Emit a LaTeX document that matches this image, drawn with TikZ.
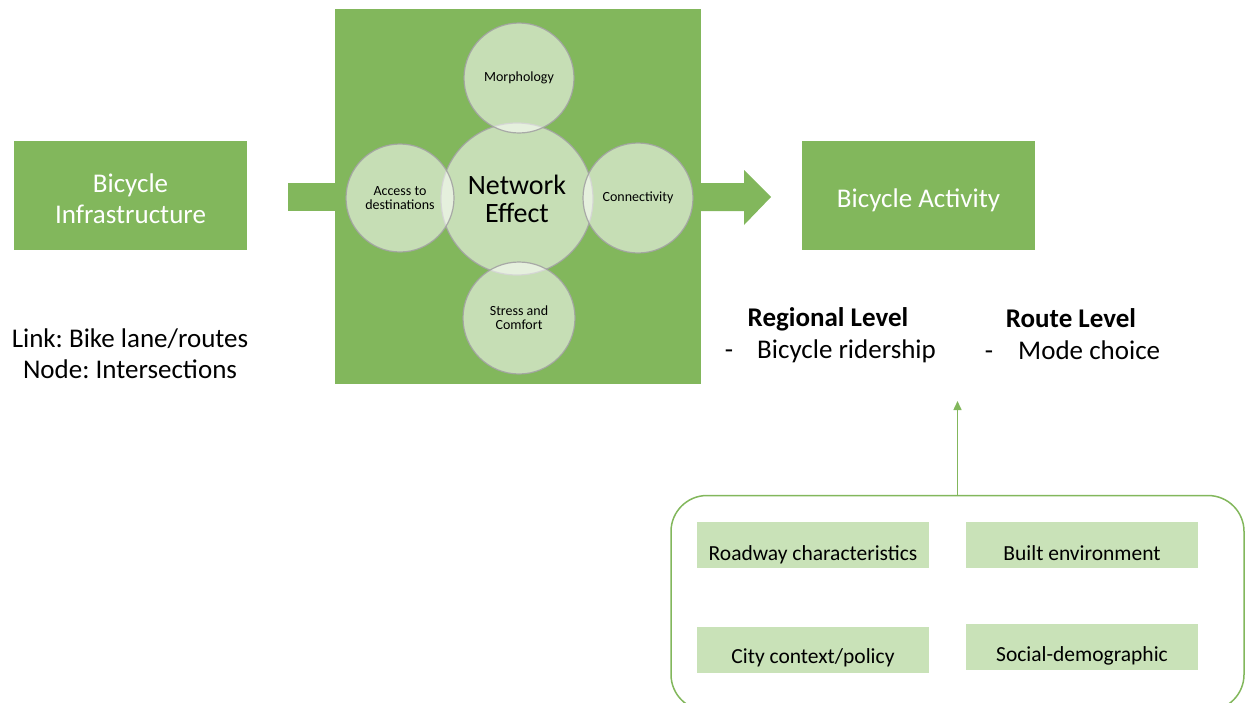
\documentclass[tikz,border=0pt]{standalone}
\usepackage{fontspec}
\setmainfont{Carlito}
\usetikzlibrary{arrows.meta}
\frenchspacing
\definecolor{leaf}{HTML}{82B75C}
\definecolor{paleleaf}{HTML}{C9E2B8}
\definecolor{rim}{HTML}{A3A3A3}
\tikzset{
  greenbox/.style={fill=leaf, text=white, minimum width=233pt, minimum height=109pt,
    align=center, font=\fontsize{27}{31}\selectfont, inner sep=0pt},
  bubble/.style={circle, fill=white, fill opacity=0.55, text opacity=1, draw=rim,
    draw opacity=0.9, line width=1.2pt, align=center, inner sep=0pt},
  small/.style={font=\fontsize{14}{14}\selectfont},
  factor/.style={fill=paleleaf, minimum width=232pt, minimum height=46pt, inner sep=0pt},
  factortext/.style={font=\fontsize{21.5}{24}\selectfont, inner sep=0pt,
    text height=15pt, text depth=5pt},
  plain/.style={font=\fontsize{27}{31}\selectfont, inner sep=0pt},
  heading/.style={font=\fontsize{27}{31}\selectfont\bfseries, inner sep=0pt},
}
\newcommand{\lowerby}[2]{\raisebox{-#1}[\height][\depth]{#2}}
\begin{document}
\begin{tikzpicture}[x=1pt, y=-1pt]
\useasboundingbox (0,0) rectangle (1247,702);
\clip (0,0) rectangle (1247,702);

% left block and its notes
\node[greenbox] (infra) at (130.5,195.5)
  {\lowerby{6pt}{\begin{tabular}{@{}c@{}}Bicycle\\Infrastructure\end{tabular}}};
\node[plain, align=center] (notes) at (130,354) {Link: Bike lane/routes\\Node: Intersections};

% arrow stub into the network panel
\fill[leaf] (288,183) rectangle (336,211);

% network panel
\node[fill=leaf, minimum width=366pt, minimum height=375pt, inner sep=0pt] (panel) at (518,196.5) {};

% outgoing arrow
\fill[leaf] (700,183) -- (744,183) -- (744,170) -- (771,197) -- (744,225) -- (744,211) -- (700,211) -- cycle;

% bubbles
\node[bubble, minimum size=152pt, font=\fontsize{28}{28}\selectfont] (net) at (517,199) {Network\\Effect};
\node[bubble, small, minimum size=110pt] (morph) at (519,78) {Morphology};
\node[bubble, small, minimum size=108pt] (access) at (400,198) {Access to\\destinations};
\node[bubble, small, minimum size=110pt] (conn) at (638,198) {Connectivity};
\node[bubble, small, minimum size=112pt] (stress) at (519,318) {Stress and\\Comfort};

% outcome block
\node[greenbox] (activity) at (918.5,195.5) {\lowerby{5pt}{Bicycle Activity}};

\node[heading] (regional) at (828,319) {Regional Level};
\node[plain, anchor=west] (ridership) at (757,351) {Bicycle ridership};
\node[plain, anchor=base] (dashA) at ([xshift=-28pt]ridership.base west) {-};
\node[heading] (route) at (1071,318) {Route Level};
\node[plain, anchor=west] (mode) at (1018,350) {Mode choice};
\node[plain, anchor=base] (dashB) at ([xshift=-29pt]mode.base west) {-};

% contextual factors
\node[draw=leaf, line width=1.5pt, rounded corners=36pt, minimum width=573pt,
  minimum height=215pt, inner sep=0pt] (context) at (957.5,603) {};
\node[factor] (roadway) at (813,545) {};
\node[factor] (built) at (1081.5,545) {};
\node[factor] (city) at (813,650) {};
\node[factor] (social) at (1082,647) {};
\node[factortext] at (813,555) {Roadway characteristics};
\node[factortext] at (1082,555) {Built environment};
\node[factortext] at (813,658) {City context/policy};
\node[factortext] at (1082,656) {Social-demographic};

\coordinate (target) at (957.5,401);
\draw[leaf, line width=1.5pt, -{Triangle[length=9pt, width=8pt]}] (context.north) -- (target);
\end{tikzpicture}
\end{document}
